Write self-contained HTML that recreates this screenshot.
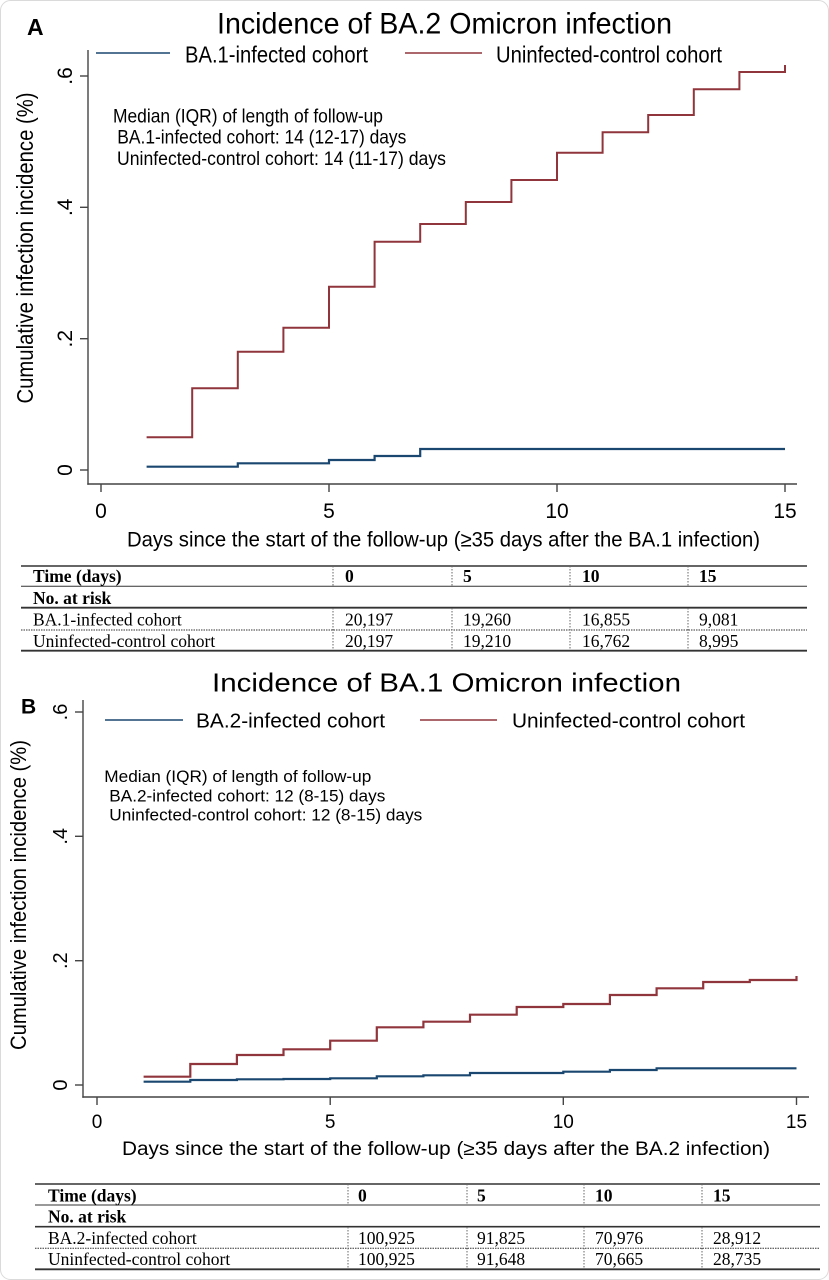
<!DOCTYPE html>
<html><head><meta charset="utf-8"><style>
html,body{margin:0;padding:0;background:#fff;}
svg{display:block;}
text{font-family:"Liberation Sans",Arial,sans-serif;fill:#000;}
.s{font-family:"Liberation Serif","Times New Roman",serif;font-size:17.5px;}
.b{font-weight:bold;}
</style></head><body>
<svg width="829" height="1280" viewBox="0 0 829 1280" xmlns="http://www.w3.org/2000/svg">
<rect x="0.5" y="0.5" width="828" height="1279" rx="10" fill="#fff" stroke="#dadada" stroke-width="1"/>

<!-- ================= PANEL A ================= -->
<text x="27" y="35" font-size="23" font-weight="bold">A</text>
<text x="217" y="33.5" font-size="30" textLength="455" lengthAdjust="spacingAndGlyphs">Incidence of BA.2 Omicron infection</text>

<!-- legend -->
<line x1="96" y1="53" x2="170" y2="53" stroke="#1a476f" stroke-width="1.5"/>
<text x="185" y="62.3" font-size="23" textLength="183" lengthAdjust="spacingAndGlyphs">BA.1-infected cohort</text>
<line x1="405" y1="53" x2="482" y2="53" stroke="#90353b" stroke-width="1.5"/>
<text x="496" y="62.3" font-size="23" textLength="226" lengthAdjust="spacingAndGlyphs">Uninfected-control cohort</text>

<!-- annotation -->
<text x="113" y="122.3" font-size="19.5" textLength="270" lengthAdjust="spacingAndGlyphs">Median (IQR) of length of follow-up</text>
<text x="117.3" y="143.5" font-size="19.5" textLength="289" lengthAdjust="spacingAndGlyphs">BA.1-infected cohort: 14 (12-17) days</text>
<text x="117" y="165" font-size="19.5" textLength="329" lengthAdjust="spacingAndGlyphs">Uninfected-control cohort: 14 (11-17) days</text>

<!-- axes -->
<g stroke="#444" stroke-width="1.4" fill="none">
<line x1="88" y1="50" x2="88" y2="484.7"/>
<line x1="87.3" y1="484" x2="797" y2="484"/>
<line x1="80" y1="76" x2="88" y2="76"/>
<line x1="80" y1="207.3" x2="88" y2="207.3"/>
<line x1="80" y1="338.7" x2="88" y2="338.7"/>
<line x1="80" y1="470" x2="88" y2="470"/>
<line x1="101" y1="484" x2="101" y2="492"/>
<line x1="329" y1="484" x2="329" y2="492"/>
<line x1="557" y1="484" x2="557" y2="492"/>
<line x1="785" y1="484" x2="785" y2="492"/>
</g>
<g font-size="21" text-anchor="middle">
<text transform="translate(72,76) rotate(-90)">.6</text>
<text transform="translate(72,207.3) rotate(-90)">.4</text>
<text transform="translate(72,338.7) rotate(-90)">.2</text>
<text transform="translate(72,470) rotate(-90)">0</text>
<text x="101" y="518">0</text>
<text x="329" y="518">5</text>
<text x="557" y="518">10</text>
<text x="785" y="518">15</text>
</g>
<text transform="translate(33,248) rotate(-90)" font-size="23" text-anchor="middle" textLength="311" lengthAdjust="spacingAndGlyphs">Cumulative infection incidence (%)</text>
<text x="127" y="546.7" font-size="21" textLength="633" lengthAdjust="spacingAndGlyphs">Days since the start of the follow-up (≥35 days after the BA.1 infection)</text>

<!-- curves A -->
<path d="M146.6,437.3 H192.2 V388.3 H237.8 V351.7 H283.4 V327.7 H329 V286.7 H374.6 V241.7 H420.2 V224 H465.8 V202 H511.4 V180 H557 V152.7 H602.6 V132.3 H648.2 V115 H693.8 V89.3 H739.4 V72 H785 V65" fill="none" stroke="#90353b" stroke-width="2"/>
<path d="M146.6,466.7 H237.8 V463.3 H329 V460 H374.6 V456 H420.2 V449 H785" fill="none" stroke="#1a476f" stroke-width="2.2"/>

<!-- table A -->
<g stroke="#333" fill="none">
<line x1="21" y1="566" x2="807" y2="566" stroke-width="1.4"/>
<line x1="21" y1="586.3" x2="807" y2="586.3" stroke-width="1"/>
<line x1="21" y1="607.7" x2="807" y2="607.7" stroke-width="1.8"/>
<line x1="21" y1="630" x2="807" y2="630" stroke-width="1" stroke-dasharray="1.5,1"/>
<line x1="21" y1="650.7" x2="807" y2="650.7" stroke-width="1.8"/>
</g>
<g stroke="#666" stroke-width="1" stroke-dasharray="1.5,1.5">
<line x1="333" y1="566" x2="333" y2="586"/><line x1="333" y1="608" x2="333" y2="650"/>
<line x1="452" y1="566" x2="452" y2="586"/><line x1="452" y1="608" x2="452" y2="650"/>
<line x1="570" y1="566" x2="570" y2="586"/><line x1="570" y1="608" x2="570" y2="650"/>
<line x1="688" y1="566" x2="688" y2="586"/><line x1="688" y1="608" x2="688" y2="650"/>
</g>
<text class="s b" x="33" y="582">Time (days)</text>
<text class="s b" x="345" y="582">0</text>
<text class="s b" x="463" y="582">5</text>
<text class="s b" x="582" y="582">10</text>
<text class="s b" x="699" y="582">15</text>
<text class="s b" x="33" y="604">No. at risk</text>
<text class="s" x="33" y="625.5">BA.1-infected cohort</text>
<text class="s" x="345" y="625.5">20,197</text>
<text class="s" x="463" y="625.5">19,260</text>
<text class="s" x="582" y="625.5">16,855</text>
<text class="s" x="699" y="625.5">9,081</text>
<text class="s" x="33" y="647">Uninfected-control cohort</text>
<text class="s" x="345" y="647">20,197</text>
<text class="s" x="463" y="647">19,210</text>
<text class="s" x="582" y="647">16,762</text>
<text class="s" x="699" y="647">8,995</text>

<!-- ================= PANEL B ================= -->
<text x="21" y="713.5" font-size="21" font-weight="bold">B</text>
<text x="212" y="691.7" font-size="26" textLength="469" lengthAdjust="spacingAndGlyphs">Incidence of BA.1 Omicron infection</text>

<line x1="105" y1="720" x2="183" y2="720" stroke="#1a476f" stroke-width="1.4"/>
<text x="196" y="727.5" font-size="20" textLength="189" lengthAdjust="spacingAndGlyphs">BA.2-infected cohort</text>
<line x1="420" y1="720" x2="497" y2="720" stroke="#90353b" stroke-width="1.4"/>
<text x="512" y="727.5" font-size="20" textLength="233" lengthAdjust="spacingAndGlyphs">Uninfected-control cohort</text>

<text x="104.3" y="782" font-size="16.5" textLength="267" lengthAdjust="spacingAndGlyphs">Median (IQR) of length of follow-up</text>
<text x="109.3" y="801.5" font-size="16.5" textLength="276" lengthAdjust="spacingAndGlyphs">BA.2-infected cohort: 12 (8-15) days</text>
<text x="109.3" y="820.5" font-size="16.5" textLength="313" lengthAdjust="spacingAndGlyphs">Uninfected-control cohort: 12 (8-15) days</text>

<g stroke="#444" stroke-width="1.4" fill="none">
<line x1="83" y1="700" x2="83" y2="1097.7"/>
<line x1="82.3" y1="1097" x2="809" y2="1097"/>
<line x1="75" y1="712" x2="83" y2="712"/>
<line x1="75" y1="836.3" x2="83" y2="836.3"/>
<line x1="75" y1="960.7" x2="83" y2="960.7"/>
<line x1="75" y1="1085" x2="83" y2="1085"/>
<line x1="97" y1="1097" x2="97" y2="1105"/>
<line x1="330.2" y1="1097" x2="330.2" y2="1105"/>
<line x1="563.3" y1="1097" x2="563.3" y2="1105"/>
<line x1="796.5" y1="1097" x2="796.5" y2="1105"/>
</g>
<g font-size="20" text-anchor="middle">
<text transform="translate(67,712) rotate(-90)">.6</text>
<text transform="translate(67,836.3) rotate(-90)">.4</text>
<text transform="translate(67,960.7) rotate(-90)">.2</text>
<text transform="translate(67,1085) rotate(-90)">0</text>
</g>
<g font-size="19" text-anchor="middle">
<text x="97" y="1128">0</text>
<text x="330.2" y="1128">5</text>
<text x="563.3" y="1128">10</text>
<text x="796.5" y="1128">15</text>
</g>
<text transform="translate(26,895) rotate(-90)" font-size="22" text-anchor="middle" textLength="310" lengthAdjust="spacingAndGlyphs">Cumulative infection incidence (%)</text>
<text x="122" y="1155" font-size="19" textLength="648" lengthAdjust="spacingAndGlyphs">Days since the start of the follow-up (≥35 days after the BA.2 infection)</text>

<!-- curves B -->
<path d="M143.6,1076.7 H190.3 V1064 H236.9 V1055 H283.5 V1049.3 H330.2 V1040.7 H376.8 V1027.3 H423.4 V1021.7 H470 V1014.7 H516.7 V1007 H563.3 V1004 H609.9 V995 H656.6 V988.3 H703.2 V982 H749.8 V980 H796.5 V976" fill="none" stroke="#90353b" stroke-width="2.2"/>
<path d="M143.6,1081.7 H190.3 V1080 H236.9 V1079.3 H283.5 V1079 H330.2 V1078.3 H376.8 V1076.3 H423.4 V1075.3 H470 V1073 H563.3 V1071.7 H609.9 V1070 H656.6 V1068.3 H796.5" fill="none" stroke="#1a476f" stroke-width="2.2"/>

<!-- table B -->
<g stroke="#333" fill="none">
<line x1="35" y1="1184" x2="820" y2="1184" stroke-width="1.6"/>
<line x1="35" y1="1205" x2="820" y2="1205" stroke-width="1"/>
<line x1="35" y1="1226.7" x2="820" y2="1226.7" stroke-width="1.6"/>
<line x1="35" y1="1248.3" x2="820" y2="1248.3" stroke-width="1" stroke-dasharray="1.5,1"/>
<line x1="35" y1="1269.3" x2="820" y2="1269.3" stroke-width="1.8"/>
</g>
<g stroke="#666" stroke-width="1" stroke-dasharray="1.5,1.5">
<line x1="348" y1="1184" x2="348" y2="1205"/><line x1="348" y1="1227" x2="348" y2="1269"/>
<line x1="467" y1="1184" x2="467" y2="1205"/><line x1="467" y1="1227" x2="467" y2="1269"/>
<line x1="584" y1="1184" x2="584" y2="1205"/><line x1="584" y1="1227" x2="584" y2="1269"/>
<line x1="702" y1="1184" x2="702" y2="1205"/><line x1="702" y1="1227" x2="702" y2="1269"/>
</g>
<text class="s b" x="48" y="1201.5">Time (days)</text>
<text class="s b" x="358" y="1201.5">0</text>
<text class="s b" x="477" y="1201.5">5</text>
<text class="s b" x="595" y="1201.5">10</text>
<text class="s b" x="713" y="1201.5">15</text>
<text class="s b" x="48" y="1222.5">No. at risk</text>
<text class="s" x="48" y="1244">BA.2-infected cohort</text>
<text class="s" x="358" y="1244">100,925</text>
<text class="s" x="477" y="1244">91,825</text>
<text class="s" x="595" y="1244">70,976</text>
<text class="s" x="713" y="1244">28,912</text>
<text class="s" x="48" y="1265">Uninfected-control cohort</text>
<text class="s" x="358" y="1265">100,925</text>
<text class="s" x="477" y="1265">91,648</text>
<text class="s" x="595" y="1265">70,665</text>
<text class="s" x="713" y="1265">28,735</text>
</svg>
</body></html>
